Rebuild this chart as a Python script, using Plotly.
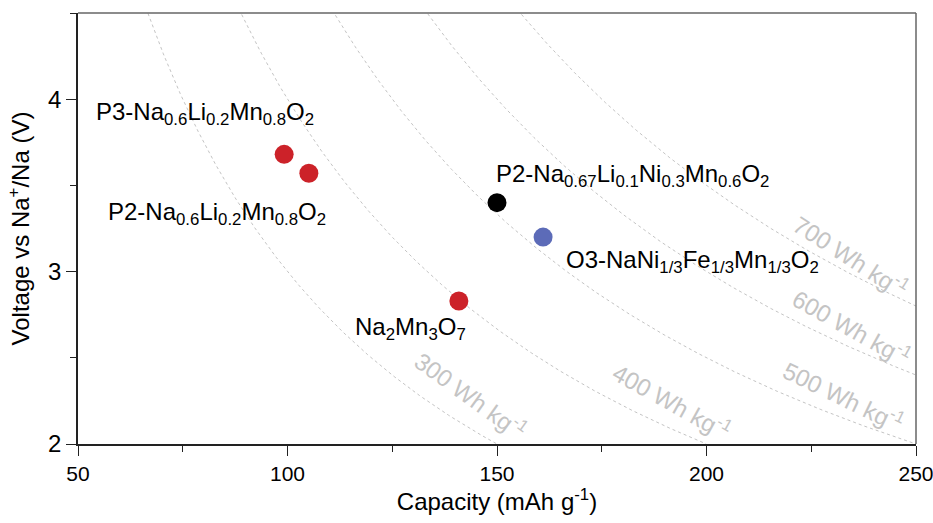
import numpy as np
import plotly.graph_objects as go

# Cathode materials: capacity (mAh/g) and average voltage (V vs Na+/Na)
materials = [
    "P3-Na<sub>0.6</sub>Li<sub>0.2</sub>Mn<sub>0.8</sub>O<sub>2</sub>",
    "P2-Na<sub>0.6</sub>Li<sub>0.2</sub>Mn<sub>0.8</sub>O<sub>2</sub>",
    "Na<sub>2</sub>Mn<sub>3</sub>O<sub>7</sub>",
    "P2-Na<sub>0.67</sub>Li<sub>0.1</sub>Ni<sub>0.3</sub>Mn<sub>0.6</sub>O<sub>2</sub>",
    "O3-NaNi<sub>1/3</sub>Fe<sub>1/3</sub>Mn<sub>1/3</sub>O<sub>2</sub>",
]
capacity = [99.2, 105.1, 140.9, 150.0, 161.0]
voltage = [3.68, 3.57, 2.83, 3.40, 3.20]
colors = ["#cc2229", "#cc2229", "#cc2229", "#000000", "#5c6bb8"]
# label offsets in pixels (dx, dy) relative to each marker
label_dx = [-79, -92, -48, 135, 149]
label_dy = [41, -40, -28, 27, -24]

# Iso-specific-energy guide lines (Wh/kg)
energies = [300, 400, 500, 600, 700]
energy_label_cap = [143.8, 191.8, 232.8, 234.7, 234.5]
energy_label_dy = [34, 28, 23, 21, 18]

x_range = [50, 250]
y_range = [2, 4.5]

fig = go.Figure()

for e in energies:
    c = np.linspace(x_range[0], x_range[1], 600)
    v = e / c
    keep = (v >= y_range[0]) & (v <= y_range[1])
    fig.add_trace(go.Scatter(
        x=c[keep], y=v[keep], mode="lines",
        line=dict(color="#c4c4c4", width=1, dash="dot"),
        hoverinfo="skip", showlegend=False,
    ))

fig.add_trace(go.Scatter(
    x=capacity, y=voltage, mode="markers",
    marker=dict(size=19, color=colors, line=dict(width=0)),
    showlegend=False,
))

font_family = "Liberation Sans, Arial, sans-serif"
fs = 24
tick_fs = 21

# plot-area pixel scale for rotating the energy labels along their curves
plot_w = 933 - 78 - 17
plot_h = 523 - 13 - 79
px_per_x = plot_w / (x_range[1] - x_range[0])
px_per_y = plot_h / (y_range[1] - y_range[0])

annotations = []
for name, cx, vy, dx, dy in zip(materials, capacity, voltage, label_dx, label_dy):
    annotations.append(dict(
        x=cx, y=vy, xref="x", yref="y", text=name, showarrow=False,
        xshift=dx, yshift=dy, font=dict(family=font_family, size=fs, color="#000"),
    ))

for e, cx, dy in zip(energies, energy_label_cap, energy_label_dy):
    slope = e / cx ** 2 * px_per_y / px_per_x
    ang = float(np.degrees(np.arctan(slope))) + 5
    annotations.append(dict(
        x=cx, y=e / cx, xref="x", yref="y",
        text=f"{e} Wh kg<sup>-1</sup>", showarrow=False, textangle=ang,
        yshift=dy, font=dict(family=font_family, size=fs, color="#c4c4c4"),
    ))

fig.update_layout(
    width=933, height=523,
    margin=dict(l=78, r=17, t=13, b=79),
    paper_bgcolor="white", plot_bgcolor="white",
    font=dict(family=font_family, size=fs, color="#000"),
    annotations=annotations,
    shapes=[
        dict(type="line", xref="paper", yref="paper", x0=0, x1=1, y0=1, y1=1,
             line=dict(color="#666", width=1.5)),
        dict(type="line", xref="paper", yref="paper", x0=1, x1=1, y0=0, y1=1,
             line=dict(color="#666", width=1.5)),
    ],
)

fig.update_xaxes(
    range=x_range, tick0=50, dtick=50, showgrid=False, zeroline=False,
    automargin=False, ticklabeloverflow="allow",
    showline=True, linecolor="#222", linewidth=1.5,
    ticks="outside", ticklen=10, tickwidth=1.2, tickcolor="#222",
    minor=dict(dtick=25, ticks="outside", ticklen=6, tickcolor="#222", showgrid=False),
    tickfont=dict(size=tick_fs),
    title=dict(text="Capacity (mAh g<sup>-1</sup>)", font=dict(size=fs), standoff=8),
)
fig.update_yaxes(
    range=y_range, tick0=2, dtick=1, showgrid=False, zeroline=False,
    automargin=False, ticklabeloverflow="allow",
    showline=True, linecolor="#222", linewidth=1.5,
    ticks="outside", ticklen=10, tickwidth=1.2, tickcolor="#222",
    minor=dict(dtick=0.5, ticks="outside", ticklen=6, tickcolor="#222", showgrid=False),
    tickfont=dict(size=fs),
    title=dict(text="Voltage vs Na<sup>+</sup>/Na (V)", font=dict(size=fs), standoff=12),
)

fig.write_html("out.html")
